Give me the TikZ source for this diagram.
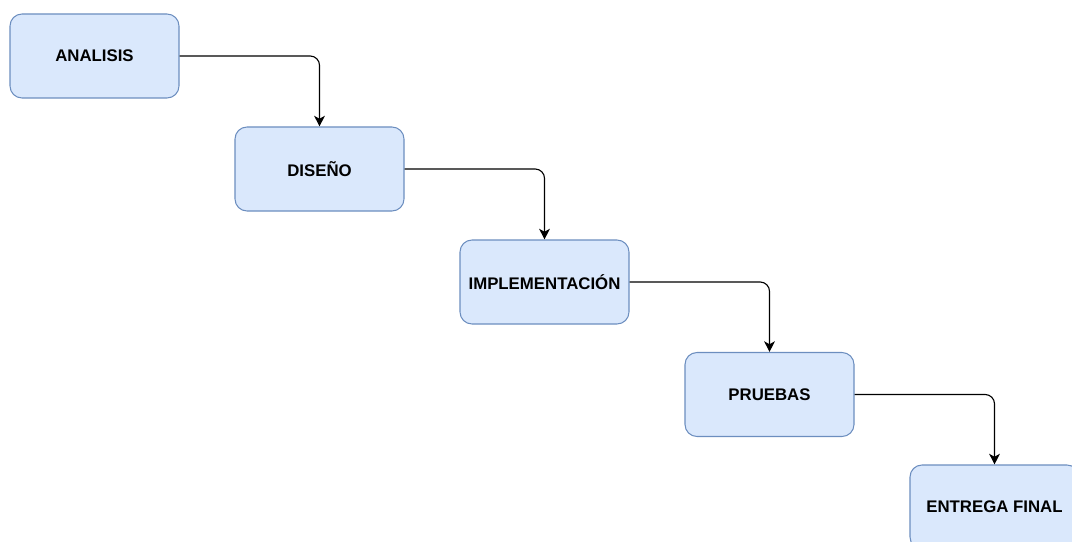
\documentclass[tikz,border=0pt]{standalone}
\usepackage{fontspec}
\setmainfont{Liberation Sans}
\usetikzlibrary{arrows.meta}
\definecolor{boxfill}{HTML}{DAE8FC}
\definecolor{boxdraw}{HTML}{6C8EBF}
\tikzset{
  stepbox/.style={draw=boxdraw, fill=boxfill, line width=0.8pt, rounded corners=9pt,
    minimum width=126.75pt, minimum height=63pt, inner sep=0pt,
    font=\fontsize{12.6pt}{14pt}\selectfont\bfseries, text=black},
  conn/.style={draw=black, line width=0.85pt, rounded corners=7pt,
    -{Stealth[length=8pt, width=8pt, inset=2.2pt]}}
}
\begin{document}
\begin{tikzpicture}[x=0.75pt, y=-0.75pt]
\useasboundingbox (0,0) rectangle (1072,542);
\begin{scope}
\clip (0,0) rectangle (1072,542);
\node[stepbox] (a) at (94.5,56) {ANALISIS};
\node[stepbox] (d) at (319.5,169) {DISEÑO};
\node[stepbox] (i) at (544.5,282) {IMPLEMENTACIÓN};
\node[stepbox] (p) at (769.5,394.5) {PRUEBAS};
\node[stepbox] (e) at (994.5,507) {ENTREGA FINAL};
\draw[conn] (a.east) -| (d.north);
\draw[conn] (d.east) -| (i.north);
\draw[conn] (i.east) -| (p.north);
\draw[conn] (p.east) -| (e.north);
\end{scope}
\end{tikzpicture}
\end{document}
